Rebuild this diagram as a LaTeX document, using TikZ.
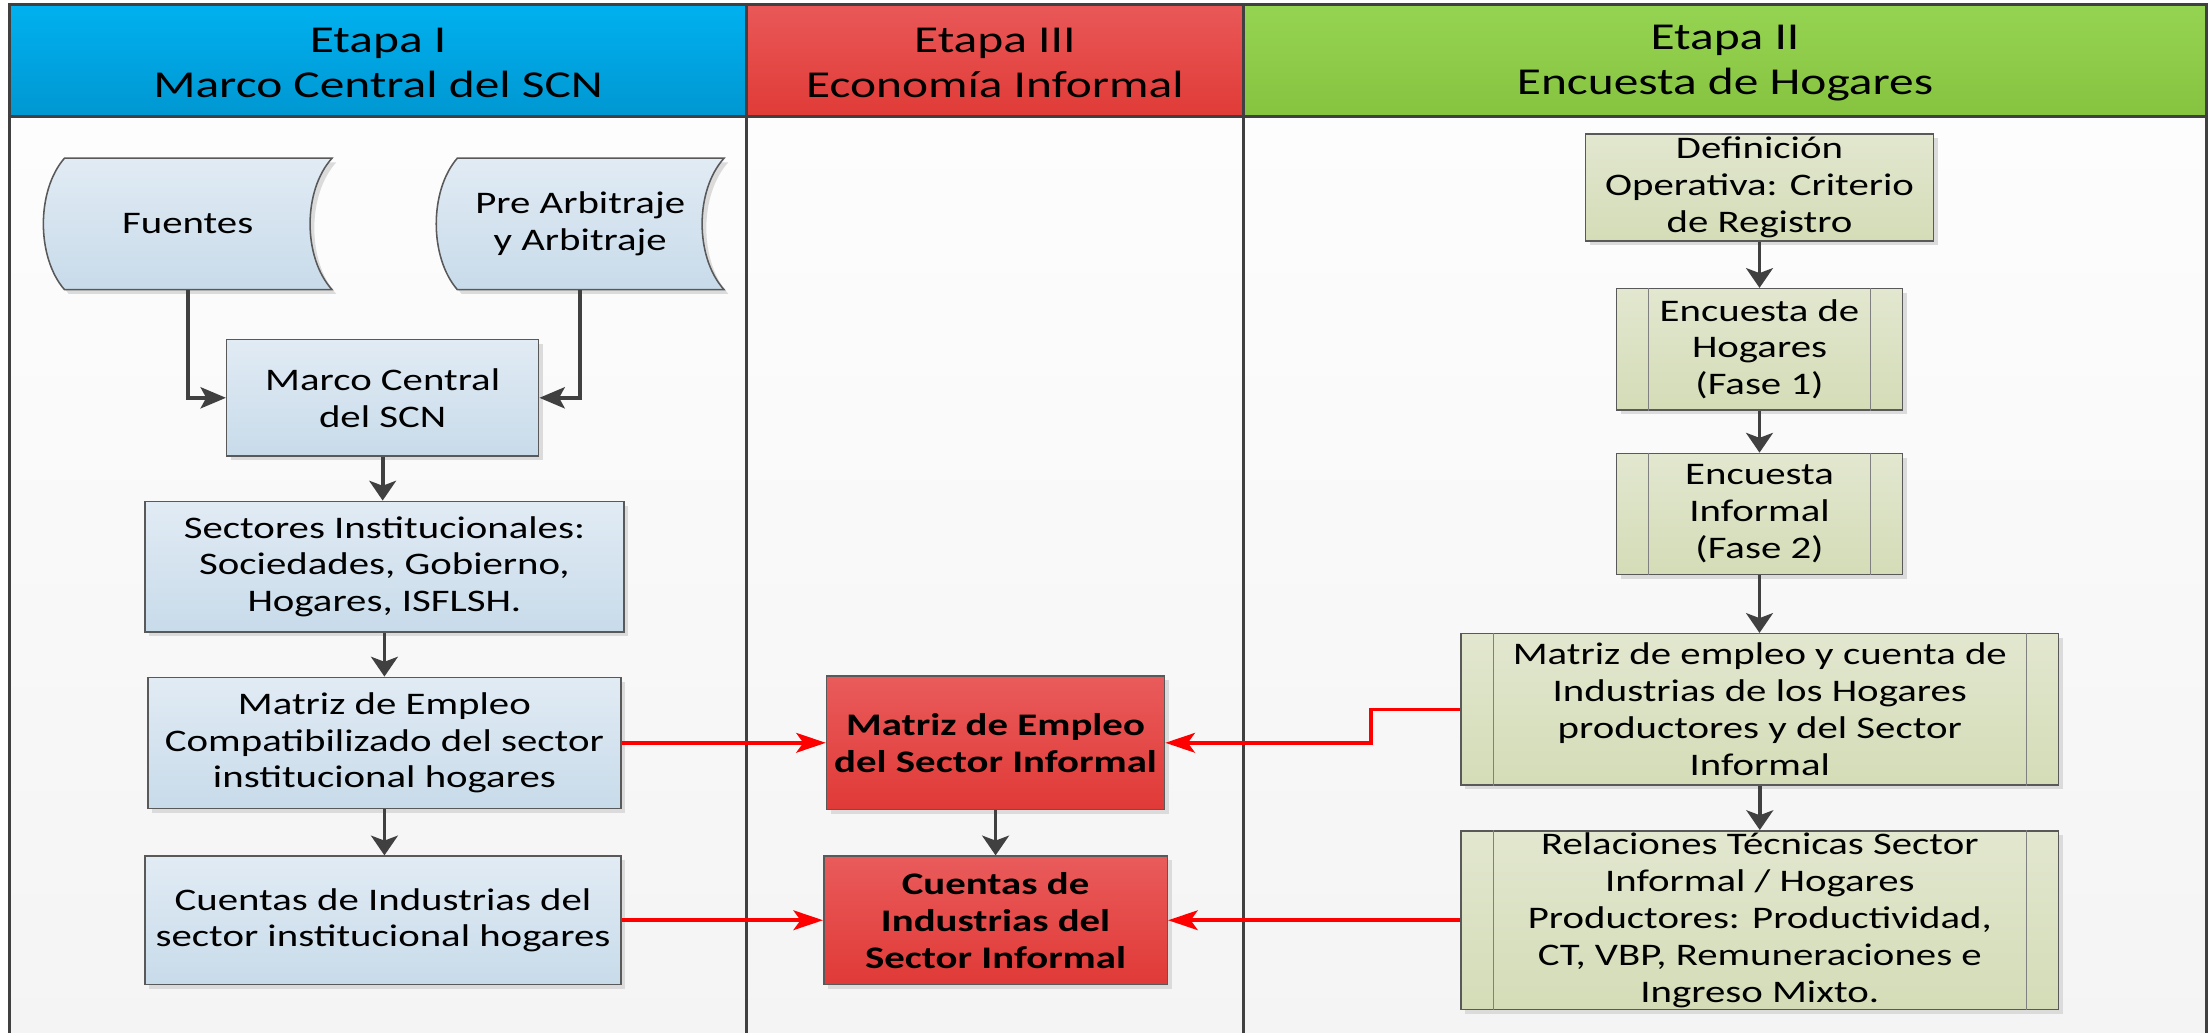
\documentclass[tikz,border=0pt]{standalone}
\usepackage{fontspec}
\setmainfont{Carlito}[FakeStretch=1.30]
\usetikzlibrary{arrows.meta,shadows,calc}
\pgfdeclarelayer{back}
\pgfdeclarelayer{mid}
\pgfsetlayers{back,mid,main}
\definecolor{hblue1}{HTML}{00B1EF}
\definecolor{hblue2}{HTML}{0097D2}
\definecolor{hred1}{HTML}{E95858}
\definecolor{hred2}{HTML}{E03B37}
\definecolor{hgreen1}{HTML}{95D452}
\definecolor{hgreen2}{HTML}{86C33F}
\definecolor{bb1}{HTML}{E1EBF4}
\definecolor{bb2}{HTML}{C8DBEA}
\definecolor{gb1}{HTML}{E2E7CF}
\definecolor{gb2}{HTML}{D4DCB7}
\definecolor{rb1}{HTML}{E95B5B}
\definecolor{rb2}{HTML}{E03A37}
\definecolor{framec}{HTML}{404040}
\definecolor{arrc}{HTML}{404040}
\definecolor{bg1}{HTML}{FDFDFD}
\definecolor{bg2}{HTML}{F4F4F4}
\begin{document}
\begin{tikzpicture}[x=1pt,y=-1pt,
  boxtext/.style={align=center, font=\fontsize{22.3}{26.2}\selectfont, inner sep=0pt},
  shad/.style={drop shadow={shadow xshift=3pt,shadow yshift=-3pt,fill=black!14,opacity=1}},
  bluebox/.style={boxtext, draw=black!65, line width=1.1pt, top color=bb1, bottom color=bb2, shad},
  greenbox/.style={boxtext, draw=black!65, line width=1.1pt, top color=gb1, bottom color=gb2, shad},
  redbox/.style={boxtext, font=\fontsize{22.3}{26.2}\selectfont\bfseries, draw=black!65, line width=1.1pt, top color=rb1, bottom color=rb2, shad},
  innerline/.style={draw=black!50, line width=1pt},
  htext/.style={align=center, font=\fontsize{27}{32}\selectfont, inner sep=0pt},
  framel/.style={draw=framec, line width=2.3pt},
  darrv/.style={draw=arrc, line width=2.6pt, -{Stealth[length=14pt,width=19pt,inset=3.5pt]}},
  darrh/.style={draw=arrc, line width=2.6pt, -{Stealth[length=18pt,width=15pt,inset=4pt]}},
  rarr/.style={draw=red, line width=2.5pt, -{Stealth[length=21pt,width=14pt,inset=5pt]}}
]
\useasboundingbox (0,0) rectangle (1568,733);
\begin{pgfonlayer}{back}
  \clip (0,0) rectangle (1568,733);
  \shade[top color=bg1, bottom color=bg2] (7,83) rectangle (1567,745);
  \shade[top color=hblue1, bottom color=hblue2] (7,3) rectangle (530,83);
  \shade[top color=hred1, bottom color=hred2] (530,3) rectangle (883,83);
  \shade[top color=hgreen1, bottom color=hgreen2] (883,3) rectangle (1567,83);
  \draw[framel] (7,745) -- (7,3) -- (1567,3) -- (1567,745);
  \draw[framel] (7,83) -- (1567,83);
  \draw[framel] (530,3) -- (530,745);
  \draw[framel] (883,3) -- (883,745);
\end{pgfonlayer}

% headers
\node[htext] (h1) at (268.5,44.5) {Etapa I\\Marco Central del SCN};
\node[htext] (h2) at (706.5,44.5) {Etapa III\\Economía Informal};
\node[htext] (h3) at (1225,44.5) {Etapa II\\Encuesta de Hogares};

% stage I
\node[boxtext, minimum width=204.6pt, minimum height=93pt] (fu) at (133.3,159) {Fuentes};
\node[boxtext, minimum width=204pt, minimum height=93pt] (pa) at (412,159) {Pre Arbitraje\\y Arbitraje};
\begin{pgfonlayer}{mid}
\foreach \n in {fu,pa}{
  \path[draw=black!65, line width=1.1pt, top color=bb1, bottom color=bb2, shad]
    ($(\n.north west)+(15,0)$) -- (\n.north east)
    .. controls ($(\n.north east)+(-20.8,23)$) and ($(\n.south east)+(-20.8,-23)$) .. (\n.south east)
    -- ($(\n.south west)+(15,0)$)
    .. controls ($(\n.south west)+(-5,-23)$) and ($(\n.north west)+(-5,23)$) .. ($(\n.north west)+(15,0)$) -- cycle;
}
\end{pgfonlayer}
\node[bluebox, minimum width=221.5pt, minimum height=83pt] (mc) at (271.75,282.5) {Marco Central\\del SCN};
\node[bluebox, minimum width=340pt, minimum height=93pt] (si) at (273,402.5) {Sectores Institucionales:\\Sociedades, Gobierno,\\Hogares, ISFLSH.};
\node[bluebox, minimum width=336pt, minimum height=93pt] (lm) at (273,527.5) {Matriz de Empleo\\Compatibilizado del sector\\institucional hogares};
\node[bluebox, minimum width=338pt, minimum height=91pt] (lc) at (272,653.5) {Cuentas de Industrias del\\sector institucional hogares};

% stage III
\node[redbox, minimum width=240pt, minimum height=95pt] (rm) at (707,527.5) {Matriz de Empleo\\del Sector Informal};
\node[redbox, minimum width=244pt, minimum height=91pt] (rc) at (707,653.5) {Cuentas de\\Industrias del\\Sector Informal};

% stage II
\node[greenbox, minimum width=247pt, minimum height=76pt] (d1) at (1249.5,133) {Definición\\Operativa: Criterio\\de Registro};
\node[greenbox, minimum width=203pt, minimum height=86pt] (e1) at (1249.5,248) {Encuesta de\\Hogares\\(Fase 1)};
\node[greenbox, minimum width=203pt, minimum height=86pt] (e2) at (1249.5,365) {Encuesta\\Informal\\(Fase 2)};
\node[greenbox, minimum width=424pt, minimum height=107.6pt] (gm) at (1249.7,503.8) {Matriz de empleo y cuenta de\\Industrias de los Hogares\\productores y del Sector\\Informal};
\node[greenbox, minimum width=424pt, minimum height=127pt] (gr) at (1249.7,653.5) {Relaciones Técnicas Sector\\Informal / Hogares\\Productores: Productividad,\\CT, VBP, Remuneraciones e\\Ingreso Mixto.};
\foreach \n in {e1,e2,gm,gr}{
  \draw[innerline] ($(\n.north west)+(23.3,0)$) -- ($(\n.south west)+(23.3,0)$);
  \draw[innerline] ($(\n.north east)+(-23.3,0)$) -- ($(\n.south east)+(-23.3,0)$);
}

% dark connectors
\draw[darrh] (fu.south) |- (mc.west);
\draw[darrh] (pa.south) |- (mc.east);
\draw[darrv] (mc.south) -- (mc.south |- si.north);
\draw[darrv] (si.south) -- (si.south |- lm.north);
\draw[darrv] (lm.south) -- (lm.south |- lc.north);
\draw[darrv] (rm.south) -- (rm.south |- rc.north);
\draw[darrv] (d1.south) -- (d1.south |- e1.north);
\draw[darrv] (e1.south) -- (e1.south |- e2.north);
\draw[darrv] (e2.south) -- (e2.south |- gm.north);
\draw[darrv] (gm.south) -- (gm.south |- gr.north);

% red connectors
\draw[rarr] (lm.east) -- (rm.west);
\draw[rarr] (lc.east) -- (rc.west);
\draw[rarr] (gm.west) -- ++(-63.6,0) |- (rm.east);
\draw[rarr] (gr.west) -- (rc.east);
\end{tikzpicture}
\end{document}
